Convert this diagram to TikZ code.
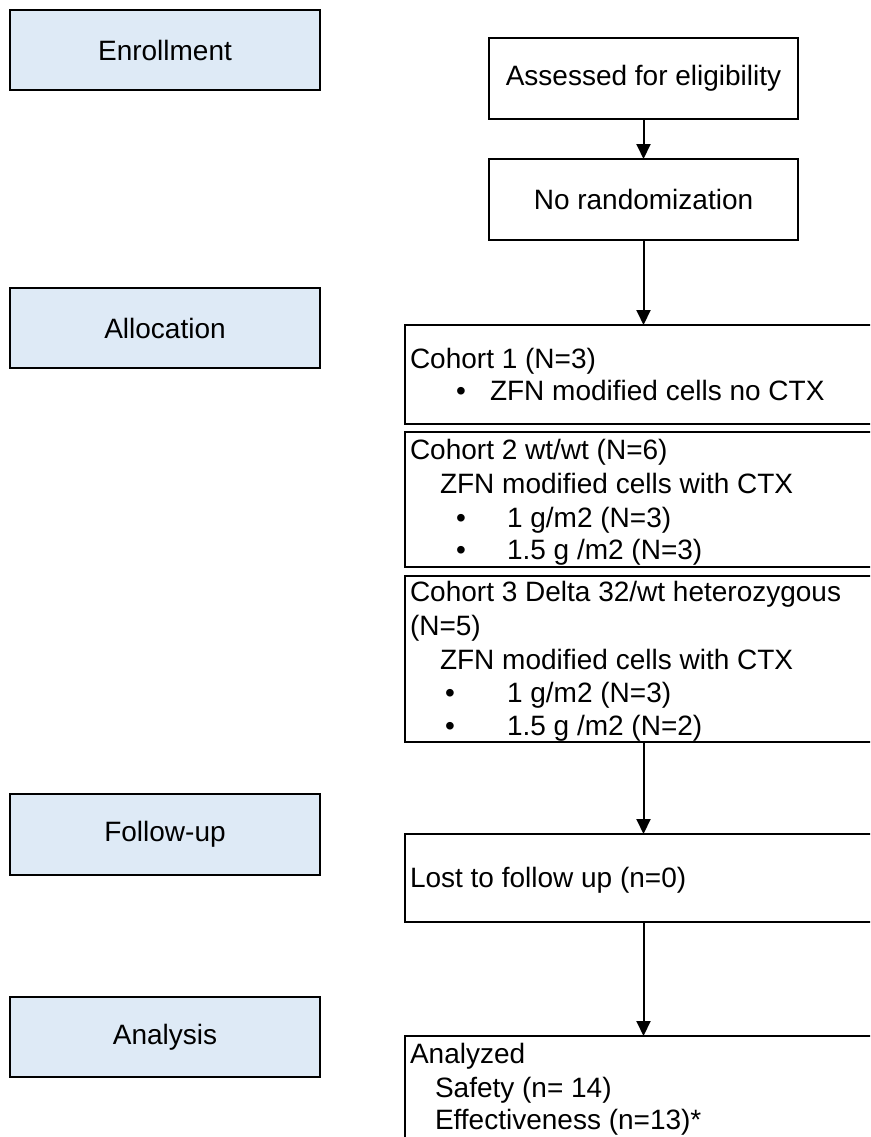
\documentclass[tikz,border=0pt]{standalone}
\usepackage{fontspec}
\setmainfont{Liberation Sans}
\usetikzlibrary{arrows.meta}
\definecolor{stagefill}{RGB}{222,234,246}
\tikzset{
  stagebox/.style={draw=black, line width=2.6pt, fill=stagefill, outer sep=0pt, inner sep=0pt,
    anchor=north west, minimum width=310pt, font=\fontsize{28}{33}\selectfont},
  flowbox/.style={draw=black, line width=2pt, fill=white, outer sep=0pt, inner sep=0pt,
    anchor=north west, font=\fontsize{28}{33}\selectfont},
  txt/.style={inner sep=0pt, outer sep=0pt, anchor=base west, font=\fontsize{28}{33}\selectfont},
  flowarrow/.style={line width=2pt, -{Triangle[length=15pt,width=14pt]}}
}
\begin{document}
\begin{tikzpicture}[x=1pt,y=-1pt]
\fill[white] (0,0) rectangle (870,1137);
\clip (0,0) rectangle (870,1137);
% stage boxes
\node[stagebox, minimum height=80pt] (enr) at (10,10) {Enrollment};
\node[stagebox, minimum height=80pt] (alloc) at (10,288) {Allocation};
\node[stagebox, minimum height=81pt] (fup) at (10,794) {Follow-up};
\node[stagebox, minimum height=80pt] (ana) at (10,997) {Analysis};
% flow boxes
\node[flowbox, minimum width=309pt, minimum height=81pt] (assess) at (489,38) {Assessed for eligibility};
\node[flowbox, minimum width=309pt, minimum height=81pt] (norand) at (489,159) {No randomization};
\node[flowbox, minimum width=480pt, minimum height=99pt] (c1) at (405,325) {};
\node[flowbox, minimum width=480pt, minimum height=135pt] (c2) at (405,432) {};
\node[flowbox, minimum width=480pt, minimum height=166pt] (c3) at (405,576) {};
\node[flowbox, minimum width=480pt, minimum height=88pt] (lost) at (405,834) {};
\node[flowbox, minimum width=480pt, minimum height=130pt] (anal) at (405,1036) {};
% texts
\node[txt] (c1a) at (410,368) {Cohort 1 (N=3)};
\node[txt] (c1b) at (456,400) {•};
\node[txt] (c1c) at (490,400) {ZFN modified cells no CTX};
\node[txt] (c2a) at (410,459) {Cohort 2 wt/wt (N=6)};
\node[txt] (c2b) at (440,493) {ZFN modified cells with CTX};
\node[txt] (c2c) at (456,527) {•};
\node[txt] (c2d) at (507,527) {1 g/m2 (N=3)};
\node[txt] (c2e) at (456,559) {•};
\node[txt] (c2f) at (507,559) {1.5 g /m2 (N=3)};
\node[txt] (c3a) at (410,601) {Cohort 3 Delta 32/wt heterozygous};
\node[txt] (c3b) at (410,635) {(N=5)};
\node[txt] (c3c) at (440,669) {ZFN modified cells with CTX};
\node[txt] (c3d) at (445,702) {•};
\node[txt] (c3e) at (507,702) {1 g/m2 (N=3)};
\node[txt] (c3f) at (445,735) {•};
\node[txt] (c3g) at (507,735) {1.5 g /m2 (N=2)};
\node[txt] (losttxt) at (410,887) {Lost to follow up (n=0)};
\node[txt] (ana1) at (410,1063) {Analyzed};
\node[txt] (ana2) at (435,1097) {Safety (n= 14)};
\node[txt] (ana3) at (435,1129) {Effectiveness (n=13)*};
% arrows
\draw[flowarrow] (assess.south) -- (norand.north);
\draw[flowarrow] (norand.south) -- (norand.south |- c1.north);
\draw[flowarrow] (norand.south |- c3.south) -- (norand.south |- lost.north);
\draw[flowarrow] (norand.south |- lost.south) -- (norand.south |- anal.north);
\end{tikzpicture}
\end{document}
